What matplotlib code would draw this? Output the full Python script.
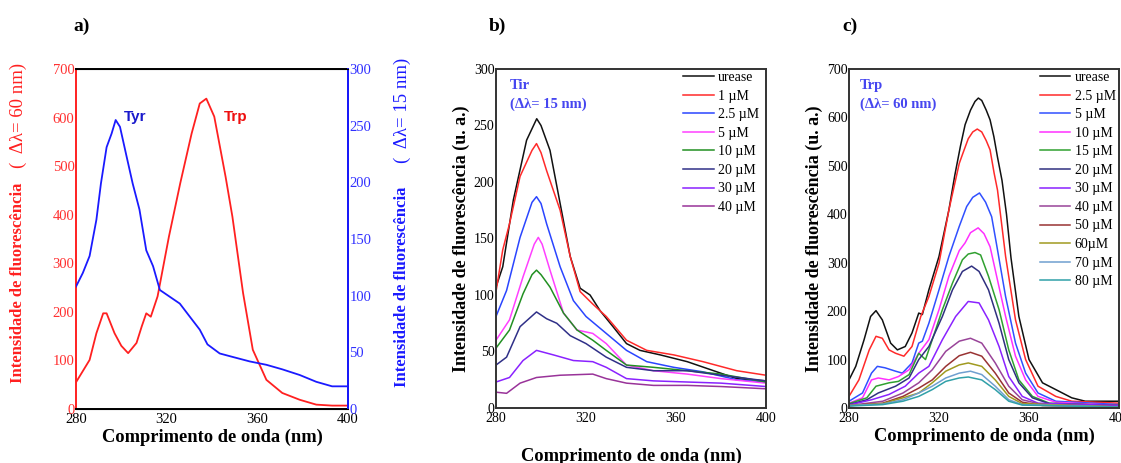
import matplotlib
matplotlib.use("Agg")
import matplotlib.pyplot as plt

plt.rcParams['font.family'] = ['Liberation Serif', 'DejaVu Serif']

# ---- panel a: Trp (left axis) and Tyr (right axis)
trp_wl = [280, 283, 286, 289, 292, 293.5, 297, 300, 303, 306.7, 309, 311, 313, 316, 321, 326, 331,
          334.6, 337.5, 341, 346, 349, 353.7, 358, 364, 371, 378.7, 386, 393, 400]
trp_int = [55, 78, 101, 156, 197, 197, 156, 130, 115, 136, 170, 197, 190, 232, 355, 465, 567,
           629, 639, 602, 478, 396, 239, 122, 60, 33, 19, 9, 7, 7]

tyr_wl = [280, 283, 286, 289, 291, 293.5, 295.7, 297.5, 299.4, 302.3, 305, 308, 311, 314, 317,
          321.4, 325.8, 330, 334.6, 338, 343.4, 349, 356.6, 364, 371, 378.7, 386, 393, 400]
tyr_int = [108, 120, 135, 167, 199, 231, 243, 255, 249, 223, 199, 176, 140, 126, 105,
           99, 93, 82, 70, 57, 49, 46, 42, 39, 35, 30, 24, 20, 20]

# ---- panel b: tyrosine quenching (delta lambda 15 nm)
b_labels = ['urease', '1 µM', '2.5 µM', '5 µM', '10 µM', '20 µM', '30 µM', '40 µM']
b_colors = ['#111111', '#ff2a2a', '#2a45ff', '#ff40ff', '#229022', '#303088', '#8a22ff', '#993399']
b_wl = [
    [280, 283, 287.7, 293.6, 298.1, 300, 304, 308.5, 313, 317.4, 321.8, 326.3, 332, 338, 344, 353, 365, 376.7, 387, 400],
    [280, 283, 286, 290.7, 296, 298, 300, 302.5, 308.5, 313, 317.4, 323, 329, 338, 347, 359, 372, 387, 400],
    [280, 284.7, 290.7, 296, 298, 300, 302.5, 308.5, 314.4, 320, 329, 338, 347, 359, 372, 387, 400],
    [280, 286, 292, 297, 298.8, 300.5, 304, 310, 316, 323, 329, 338, 350, 365, 380, 400],
    [280, 286, 292, 296, 298, 300, 304, 310, 316, 323, 329, 338, 350, 365, 380, 400],
    [280, 284.7, 290.7, 298, 302.5, 307, 313, 320, 329, 338, 350, 365, 380, 400],
    [280, 286, 292, 298, 305.5, 314.4, 323, 329, 338, 350, 365, 380, 400],
    [280, 284.7, 290.7, 298, 308.5, 323, 329, 338, 350, 365, 380, 400],
]
b_int = [
    [107, 125, 184, 237, 256, 250, 228, 181, 134, 106, 100, 86, 72, 57, 51, 47, 41, 33, 26, 24],
    [103, 140, 163, 205, 228, 234, 226, 210, 175, 134, 103, 92, 81, 60, 51, 47, 41, 33, 29],
    [81, 104, 151, 182, 187, 181, 163, 125, 95, 81, 66, 51, 41, 36, 32, 25, 23],
    [60, 78, 116, 145, 151, 145, 122, 84, 69, 66, 57, 38, 33, 30, 26, 22],
    [53, 69, 101, 118, 122, 118, 107, 84, 69, 60, 51, 38, 36, 33, 30, 23],
    [38, 45, 72, 85, 79, 75, 64, 57, 45, 36, 33, 33, 29, 24],
    [23, 27, 42, 51, 47, 42, 41, 36, 26, 24, 23, 22, 19],
    [14, 13, 22, 27, 29, 30, 26, 22, 20, 20, 19, 17],
]

# ---- panel c: tryptophan quenching (delta lambda 60 nm)
c_labels = ['urease', '2.5 µM', '5 µM', '10 µM', '15 µM', '20 µM', '30 µM', '40 µM',
            '50 µM', '60µM', '70 µM', '80 µM']
c_colors = ['#111111', '#ff2a2a', '#3050ff', '#ff30ff', '#30a030', '#303080', '#8a22ff',
            '#994499', '#993333', '#a09a20', '#6f9fcf', '#30a0a8']
c_wl = [
    [280, 283, 286.7, 289.6, 292, 294.8, 298.5, 301.5, 305, 308, 311, 312.6, 315.5, 320, 324.4, 327,
     329.5, 331.6, 334, 336, 337.5, 339, 341, 342.7, 344.4, 346, 348, 350, 352, 355.5, 360, 366,
     371.9, 379, 385, 400],
    [280, 284.4, 289, 292, 294.8, 297.8, 300.7, 304.4, 308, 311.9, 315.5, 320, 324.4, 329, 330.7, 333,
     335, 337, 339, 341, 342.7, 344.5, 346, 349.6, 354, 358.5, 364, 371.9, 379, 400],
    [280, 286, 290, 292.6, 296, 300.7, 303.7, 308, 311, 312.6, 315.5, 320, 324.4, 329, 332.3, 335,
     338, 340.7, 343.4, 345.5, 349.6, 354, 358.5, 364, 371.9, 400],
    [280, 286, 290, 293, 297.8, 302, 306.7, 311, 315.5, 320, 324.4, 329, 331.6, 334, 337.4, 340,
     342.7, 345, 349.6, 354, 358.5, 364, 371.9, 400],
    [280, 287.9, 292, 297.8, 302, 306.7, 311, 314, 317, 321.5, 326, 330.4, 333, 336, 338.5, 342,
     346.7, 351, 355.5, 361.5, 369, 400],
    [280, 287.9, 293, 300.7, 306.7, 311, 315.5, 321.5, 326, 330.4, 334.5, 337.8, 342, 346.7, 351,
     355.5, 361.5, 369, 400],
    [280, 290, 297.8, 305, 311, 315.5, 321.5, 327.4, 333, 337.8, 342, 346.7, 351, 357, 364, 400],
    [280, 295, 304, 311, 317, 323, 329, 334, 339, 345, 351, 357, 366, 400],
    [280, 295, 304, 311, 317, 323, 329, 334, 339, 345, 351, 357, 366, 400],
    [280, 295, 304, 311, 317, 323, 329, 333, 339, 345, 351, 357, 400],
    [280, 295, 304, 311, 317, 323, 329, 334, 339, 345, 351, 357, 400],
    [280, 295, 304, 311, 317, 323, 329, 333, 339, 345, 351, 357, 400],
]
c_int = [
    [58, 86, 141, 189, 201, 182, 134, 120, 127, 155, 196, 193, 244, 313, 409, 480,
     540, 585, 615, 633, 640, 635, 615, 595, 560, 518, 470, 400, 310, 189, 100, 52,
     38, 21, 14, 14],
    [24, 58, 120, 148, 144, 120, 113, 107, 127, 189, 230, 299, 409, 505, 527, 556,
     570, 576, 570, 552, 533, 485, 450, 313, 182, 100, 45, 24, 14, 10],
    [14, 31, 72, 86, 83, 76, 72, 93, 134, 138, 175, 244, 313, 375, 416, 435,
     444, 425, 395, 340, 230, 134, 72, 31, 14, 7],
    [10, 21, 58, 62, 58, 65, 79, 113, 141, 203, 272, 325, 341, 362, 372, 360,
     333, 285, 189, 107, 58, 24, 12, 5],
    [9, 21, 45, 52, 55, 69, 113, 100, 141, 203, 258, 306, 318, 321, 316, 272,
     203, 120, 58, 24, 10, 5],
    [7, 17, 31, 45, 62, 100, 127, 189, 244, 282, 293, 282, 244, 175, 100,
     52, 21, 9, 5],
    [6, 17, 28, 45, 72, 86, 141, 189, 220, 217, 182, 127, 65, 24, 10, 5],
    [5, 14, 31, 52, 79, 117, 138, 144, 134, 93, 45, 17, 7, 3],
    [5, 10, 24, 41, 58, 86, 108, 115, 107, 72, 31, 12, 5, 2],
    [5, 9, 21, 31, 52, 76, 89, 93, 86, 58, 24, 9, 2],
    [5, 8, 17, 31, 45, 62, 72, 76, 69, 45, 17, 7, 2],
    [4, 7, 14, 24, 38, 55, 62, 64, 58, 38, 14, 6, 2],
]

W, H = 1121, 463
fig = plt.figure(figsize=(W / 100, H / 100), dpi=100)


def px_axes(x0, y0, x1, y1):
    # pixel box (left, top, right, bottom) -> figure fraction
    return fig.add_axes([x0 / W, 1 - y1 / H, (x1 - x0) / W, (y1 - y0) / H])


def style_frame(ax, color='#333333'):
    for s in ax.spines.values():
        s.set_color(color)
        s.set_linewidth(1.4)
    ax.tick_params(length=0, pad=1, labelsize=10)


xlab_font = dict(fontsize=13.3, fontweight='bold')
legend_opts = dict(loc='upper left', frameon=False, fontsize=10, handlelength=2.2,
                   handletextpad=0.3, labelspacing=0.4, borderpad=0, borderaxespad=0)

# ---------------- a)
ax = px_axes(76, 69, 348, 409)
ax.plot(trp_wl, trp_int, color='#ff2020', lw=1.3)
ax.set_xlim(280, 400)
ax.set_ylim(0, 700)
ax.set_xticks([280, 320, 360, 400])
ax.set_yticks(range(0, 701, 100))
style_frame(ax, 'black')
ax.spines['left'].set_color('#ff2020')
ax.tick_params(axis='y', colors='#ff3030', labelsize=10.5)
ax.tick_params(axis='x', labelsize=10.5, pad=3)
ax.set_xlabel('Comprimento de onda (nm)', labelpad=2, **xlab_font)
ax.text(306, 601, 'Tyr', color='#1a1acc', fontsize=11, fontweight='bold',
        family='Liberation Sans', ha='center', va='center')
ax.text(350.6, 601, 'Trp', color='#ee1010', fontsize=11, fontweight='bold',
        family='Liberation Sans', ha='center', va='center')

ax2 = ax.twinx()
ax2.plot(tyr_wl, tyr_int, color='#1a1aff', lw=1.3)
ax2.set_ylim(0, 300)
ax2.set_yticks(range(0, 301, 50))
ax2.spines['right'].set_color('#1a1aff')
ax2.spines['right'].set_linewidth(1.4)
ax2.spines['left'].set_visible(False)
ax2.tick_params(axis='y', length=0, pad=1, colors='#3030ff', labelsize=10.5)

fig.text(18 / W, 1 - 283 / H, 'Intensidade de fluorescência', rotation=90, color='#ff2020',
         fontsize=12, fontweight='bold', ha='center', va='center')
fig.text(18 / W, 1 - 115 / H, '(  Δλ= 60 nm)', rotation=90, color='#ff2020',
         fontsize=13.5, ha='center', va='center')
fig.text(402 / W, 1 - 287 / H, 'Intensidade de fluorescência', rotation=90, color='#1a1aff',
         fontsize=12, fontweight='bold', ha='center', va='center')
fig.text(402 / W, 1 - 110 / H, '(  Δλ= 15 nm)', rotation=90, color='#1a1aff',
         fontsize=13.5, ha='center', va='center')
fig.text(82 / W, 1 - 26 / H, 'a)', fontsize=14, fontweight='bold', ha='center', va='center')

# ---------------- b)
bx = px_axes(496, 69, 766, 408)
for wl, it, lab, col in zip(b_wl, b_int, b_labels, b_colors):
    bx.plot(wl, it, color=col, lw=1.1, label=lab)
bx.set_xlim(280, 400)
bx.set_ylim(0, 300)
bx.set_xticks([280, 320, 360, 400])
bx.set_yticks(range(0, 301, 50))
style_frame(bx)
bx.tick_params(axis='x', pad=3)
bx.set_xlabel('Comprimento de onda (nm)', labelpad=16, **xlab_font)
bx.set_ylabel('Intensidade de fluorescência (u. a.)', fontsize=13, fontweight='bold', labelpad=3)
bx.text(286.2, 285, 'Tir', color='#4646f0', fontsize=10.5, fontweight='bold', va='center')
bx.text(286.2, 269, '(Δλ= 15 nm)', color='#4646f0', fontsize=10.5, fontweight='bold', va='center')
bx.legend(bbox_to_anchor=(0.693, 0.994), **legend_opts)
fig.text(497 / W, 1 - 26 / H, 'b)', fontsize=14, fontweight='bold', ha='center', va='center')

# ---------------- c)
cx = px_axes(849, 69, 1119, 408)
for wl, it, lab, col in zip(c_wl, c_int, c_labels, c_colors):
    cx.plot(wl, it, color=col, lw=1.1, label=lab)
cx.set_xlim(280, 400)
cx.set_ylim(0, 700)
cx.set_xticks([280, 320, 360, 400])
cx.set_yticks(range(0, 701, 100))
style_frame(cx)
cx.tick_params(axis='x', pad=3)
cx.set_xlabel('Comprimento de onda (nm)', labelpad=2, **xlab_font)
cx.set_ylabel('Intensidade de fluorescência (u. a.)', fontsize=13, fontweight='bold', labelpad=3)
cx.text(284.9, 665, 'Trp', color='#4646f0', fontsize=10.5, fontweight='bold', va='center')
cx.text(284.9, 628, '(Δλ= 60 nm)', color='#4646f0', fontsize=10.5, fontweight='bold', va='center')
cx.legend(bbox_to_anchor=(0.707, 0.994), **legend_opts)
fig.text(850 / W, 1 - 26 / H, 'c)', fontsize=14, fontweight='bold', ha='center', va='center')

fig.savefig('out.png', dpi=100)
